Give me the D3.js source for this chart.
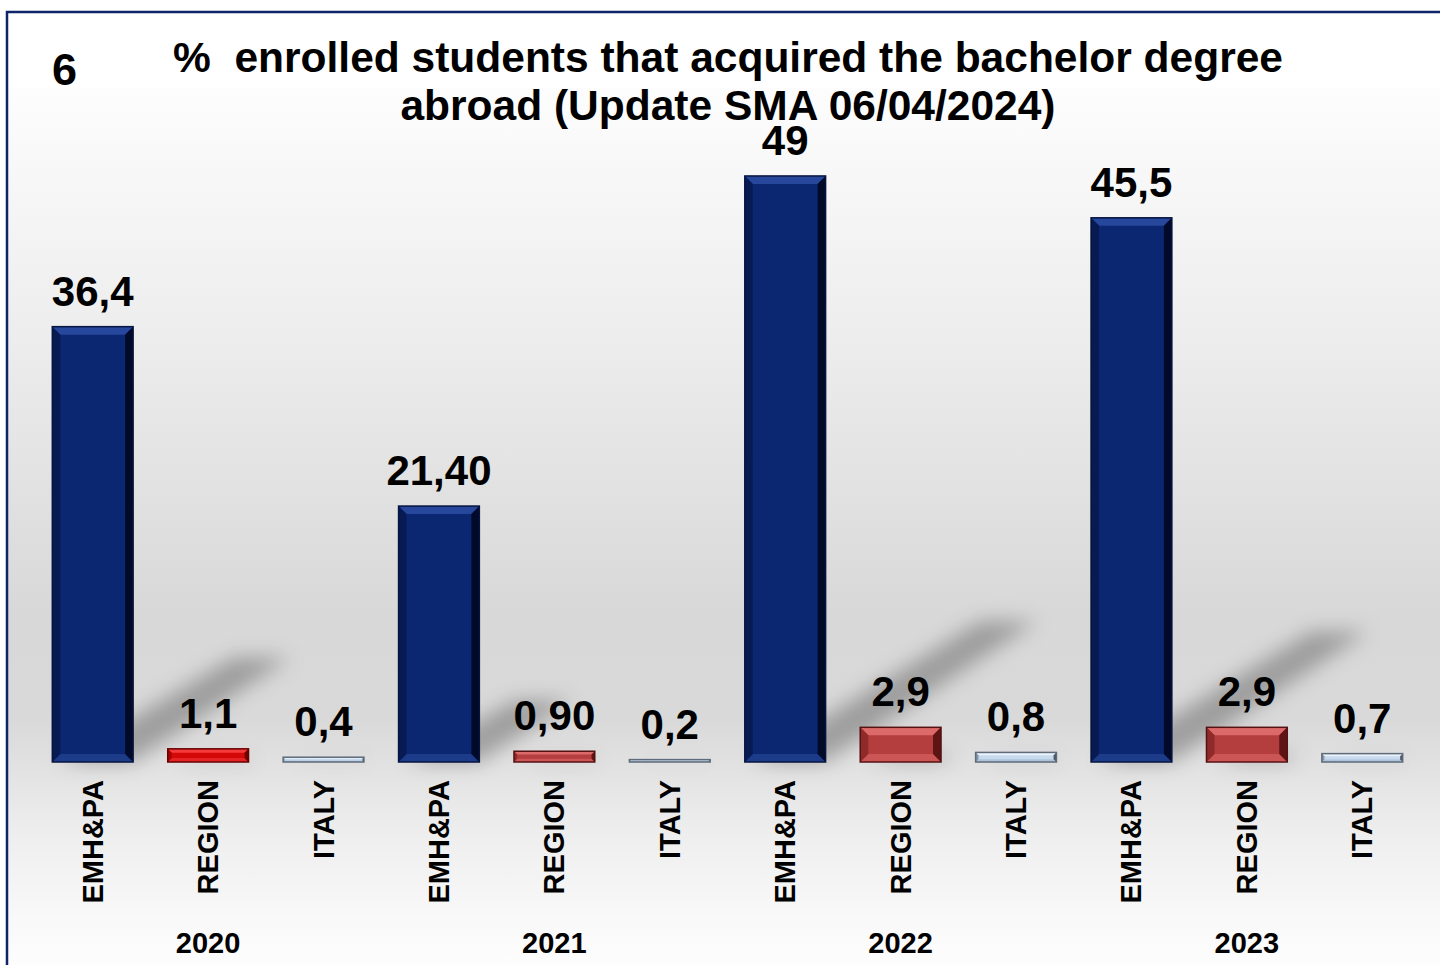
<!DOCTYPE html>
<html>
<head>
<meta charset="utf-8">
<script src="https://cdn.jsdelivr.net/npm/d3@7"></script>
<style>
  html, body { margin: 0; padding: 0; background: #fff; }
  svg { display: block; font-family: "Liberation Sans", Arial, sans-serif; }
</style>
</head>
<body>
<div class="chart"></div>
<script>
// values
var years = ['2020', '2021', '2022', '2023'];
var categories = ['EMH&PA', 'REGION', 'ITALY'];
var emhpa = [36.4, 21.4, 49, 45.5];
var region = [1.1, 0.9, 2.9, 2.9];
var italy = [0.4, 0.2, 0.8, 0.7];
var emhpaLabels = ['36,4', '21,40', '49', '45,5'];
var regionLabels = ['1,1', '0,90', '2,9', '2,9'];
var italyLabels = ['0,4', '0,2', '0,8', '0,7'];
var titleLines = ['%  enrolled students that acquired the bachelor degree', 'abroad (Update SMA 06/04/2024)'];
var slideNumber = '6';

var width = 1440, height = 965;
var baseY = 762;

// one row per bar, years outer, categories inner
var series = [emhpa, region, italy];
var seriesLabels = [emhpaLabels, regionLabels, italyLabels];
var rows = [];
years.forEach(function(yr, i) {
  categories.forEach(function(cat, j) {
    rows.push({key: yr + '|' + cat, year: yr, yi: i, cat: cat, value: series[j][i], label: seriesLabels[j][i]});
  });
});

// bevel palettes: face, top, left, right, bottom, outline
var palettes = {
  navy: {face: '#0c2772', top: '#27479c', left: '#081a52', right: '#020a2a', bottom: '#1c3c8a', line: '#06143f'},
  red: {face: '#b43d3d', top: '#dc6a6a', left: '#8e2a2a', right: '#5e1414', bottom: '#cc5656', line: '#541212'},
  brightRed: {face: '#d50808', top: '#f43a3a', left: '#a80000', right: '#700000', bottom: '#e42424', line: '#680000'},
  lightBlue: {face: '#c8daee', top: '#eaf2fb', left: '#8797aa', right: '#4c5868', bottom: '#aec2da', line: '#5e6b7a'}
};
function paletteFor(d) {
  if (d.cat === 'EMH&PA') return palettes.navy;
  if (d.cat === 'REGION') return d.yi === 0 ? palettes.brightRed : palettes.red;
  return palettes.lightBlue;
}

var x = d3.scaleBand().domain(rows.map(function(d) { return d.key; }))
  .range([35, 1420]).paddingInner(0.3).paddingOuter(0.15);
var y = d3.scaleLinear().domain([0, 50]).range([baseY, 164]);

var svg = d3.select('.chart').append('svg').attr('width', width).attr('height', height);
var defs = svg.append('defs');

var bg = defs.append('linearGradient').attr('id', 'bgGrad').attr('x1', 0).attr('y1', 0).attr('x2', 0).attr('y2', 1);
[[0, '#fdfdfd'], [0.3, '#ececec'], [0.6, '#d8d8d8'], [0.72, '#d9d9d9'], [0.85, '#eeeeee'], [0.95, '#f9f9f9'], [1, '#fdfdfd']]
  .forEach(function(s) { bg.append('stop').attr('offset', s[0]).attr('stop-color', s[1]); });

defs.append('filter').attr('id', 'blur').attr('x', '-50%').attr('y', '-50%').attr('width', '200%').attr('height', '200%')
  .append('feGaussianBlur').attr('stdDeviation', 10);

// backdrop + frame
svg.append('rect').attr('x', 8).attr('y', 88).attr('width', width - 8).attr('height', height - 88).attr('fill', 'url(#bgGrad)');
svg.append('path').attr('d', 'M7,965 L7,12 L1440,12').attr('fill', 'none').attr('stroke', '#0d2468').attr('stroke-width', 2.5);

// title
svg.append('text').attr('x', 52).attr('y', 85).attr('font-size', 45).attr('font-weight', 'bold').text(slideNumber);
svg.append('text').attr('text-anchor', 'middle').attr('font-size', 42.5).attr('font-weight', 'bold')
  .style('white-space', 'pre')
  .selectAll('tspan').data(titleLines).enter().append('tspan')
  .attr('x', 728).attr('y', function(d, i) { return 72 + i * 48; }).text(function(d) { return d; });

// cast shadows, leaning up and to the right
var shadows = svg.append('g').attr('filter', 'url(#blur)');
shadows.selectAll('polygon').data(rows).enter().append('polygon')
  .attr('fill', '#000').attr('fill-opacity', 0.28)
  .attr('points', function(d) {
    var x0 = x(d.key), w = x.bandwidth(), h = baseY - y(d.value);
    var dx = h * 0.36, dy = h * 0.24;
    var a = x0 + w * 0.1, b = x0 + w;
    return [[a, baseY], [b, baseY], [b + dx, baseY - dy], [a + dx + w * 0.2, baseY - dy]].join(' ');
  });

// bevelled bars
var bars = svg.selectAll('.bar').data(rows).enter().append('g').attr('class', 'bar');
bars.each(function(d) {
  var g = d3.select(this), p = paletteFor(d);
  var x0 = x(d.key), w = x.bandwidth(), y0 = y(d.value), h = baseY - y0;
  var b = Math.max(1.5, Math.min(8, h * 0.3));
  var x1 = x0 + w, y1 = baseY;
  g.append('rect').attr('x', x0).attr('y', y0).attr('width', w).attr('height', h).attr('fill', p.face);
  g.append('polygon').attr('fill', p.top).attr('points', [[x0, y0], [x1, y0], [x1 - b, y0 + b], [x0 + b, y0 + b]].join(' '));
  g.append('polygon').attr('fill', p.bottom).attr('points', [[x0, y1], [x1, y1], [x1 - b, y1 - b], [x0 + b, y1 - b]].join(' '));
  g.append('polygon').attr('fill', p.left).attr('points', [[x0, y0], [x0 + b, y0 + b], [x0 + b, y1 - b], [x0, y1]].join(' '));
  g.append('polygon').attr('fill', p.right).attr('points', [[x1, y0], [x1 - b, y0 + b], [x1 - b, y1 - b], [x1, y1]].join(' '));
  g.append('rect').attr('x', x0).attr('y', y0).attr('width', w).attr('height', h)
    .attr('fill', 'none').attr('stroke', p.line).attr('stroke-width', 1.5);
});

// value labels
svg.selectAll('.val').data(rows).enter().append('text').attr('class', 'val')
  .attr('x', function(d) { return x(d.key) + x.bandwidth() / 2; })
  .attr('y', function(d) { return y(d.value) - 21; })
  .attr('text-anchor', 'middle').attr('font-size', 42).attr('font-weight', 'bold')
  .text(function(d) { return d.label; });

// rotated category names
svg.selectAll('.cat').data(rows).enter().append('text').attr('class', 'cat')
  .attr('transform', function(d) { return 'translate(' + (x(d.key) + x.bandwidth() / 2 + 10) + ',780) rotate(-90)'; })
  .attr('text-anchor', 'end').attr('font-size', 29).attr('font-weight', 'bold')
  .text(function(d) { return d.cat; });

// year under the middle bar of each group
svg.selectAll('.year').data(years).enter().append('text').attr('class', 'year')
  .attr('x', function(d) { return x(d + '|REGION') + x.bandwidth() / 2; })
  .attr('y', 953).attr('text-anchor', 'middle').attr('font-size', 29).attr('font-weight', 'bold')
  .text(function(d) { return d; });
</script>
</body>
</html>
